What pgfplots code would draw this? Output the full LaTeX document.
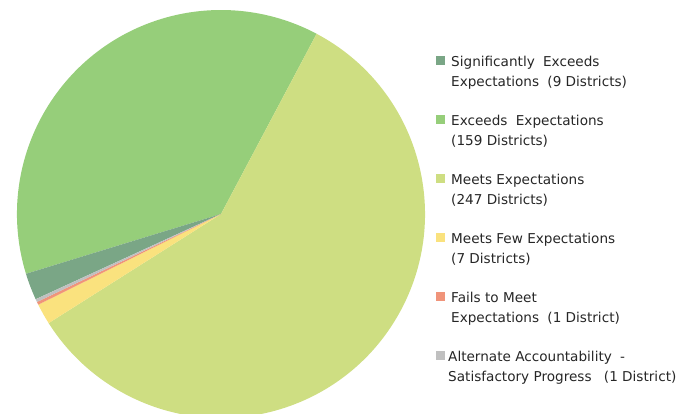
\documentclass[border=0pt]{standalone}
\usepackage{pgfplots}
\pgfplotsset{compat=1.18}
\usepackage{fontspec}
\setmainfont{DejaVu Sans}
\definecolor{cSig}{RGB}{122,166,134}
\definecolor{cExc}{RGB}{150,206,122}
\definecolor{cMeets}{RGB}{206,222,130}
\definecolor{cFew}{RGB}{250,226,126}
\definecolor{cFail}{RGB}{240,148,122}
\definecolor{cAlt}{RGB}{192,192,192}
% District counts
\def\vSig{9}
\def\vExc{159}
\def\vMeets{247}
\def\vFew{7}
\def\vFail{1}
\def\vAlt{1}
\pgfmathsetmacro\tot{\vSig+\vExc+\vMeets+\vFew+\vFail+\vAlt}
\pgfmathsetmacro\aO{204.69}
\pgfmathsetmacro\aA{\aO-(\vSig/\tot)*360}
\pgfmathsetmacro\aB{\aA-(\vExc/\tot)*360}
\pgfmathsetmacro\aC{\aB-(\vMeets/\tot)*360}
\pgfmathsetmacro\aD{\aC-(\vFew/\tot)*360}
\pgfmathsetmacro\aE{\aD-(\vFail/\tot)*360}
\pgfmathsetmacro\aF{\aE-(\vAlt/\tot)*360}
\newcommand\sector[3]{\fill[#3] (axis cs:221,200) -- ++(#1:204pt) arc[start angle=#1, end angle=#2, radius=204pt] -- cycle;}
\pgfplotsset{sqlegend/.style={legend image code/.code={\path[draw=none,fill=none] (0pt,-16.5pt) rectangle (0.01pt,16.5pt);\fill[##1, draw=none] (0pt,7.3pt) rectangle (9pt,16.3pt);}}}
\newcommand\gap{\hspace{4pt}}
\newcommand\entry[2]{\parbox[t]{240pt}{\raggedright\strut #1\\#2\strut}}
\begin{document}
\begin{tikzpicture}
\useasboundingbox (0,0) rectangle (693pt,414pt);
\begin{axis}[
  at={(0,0)}, anchor=south west,
  x=1pt, y=1pt, xmin=0, xmax=693, ymin=0, ymax=414,
  hide axis,
  legend cell align=left,
  legend style={at={(axis cs:436,361)}, anchor=north west, draw=none, fill=none,
    inner sep=0pt, row sep=20pt, column sep=6pt,
    nodes={inner sep=0pt, text depth=},
    font=\fontsize{13.6}{19.5}\selectfont, text=black!85},
]
\sector{\aA}{\aB}{cExc}
\sector{\aB}{\aC}{cMeets}
\sector{\aO}{\aA}{cSig}
\sector{\aC}{\aD}{cFew}
\sector{\aD}{\aE}{cFail}
\sector{\aE}{\aF}{cAlt}
\addlegendimage{sqlegend, cSig}
\addlegendentry{\entry{Significantly \gap Exceeds}{Expectations \gap (9 Districts)}}
\addlegendimage{sqlegend, cExc}
\addlegendentry{\entry{Exceeds \gap Expectations}{(159 Districts)}}
\addlegendimage{sqlegend, cMeets}
\addlegendentry{\entry{Meets Expectations}{(247 Districts)}}
\addlegendimage{sqlegend, cFew}
\addlegendentry{\entry{Meets Few Expectations}{(7 Districts)}}
\addlegendimage{sqlegend, cFail}
\addlegendentry{\entry{Fails to Meet}{Expectations \gap (1 District)}}
\addlegendimage{sqlegend, cAlt}
\addlegendentry{\hspace{-3pt}\entry{Alternate Accountability \gap -}{Satisfactory Progress \hspace{8pt}(1 District)}}
\end{axis}
\end{tikzpicture}
\end{document}
